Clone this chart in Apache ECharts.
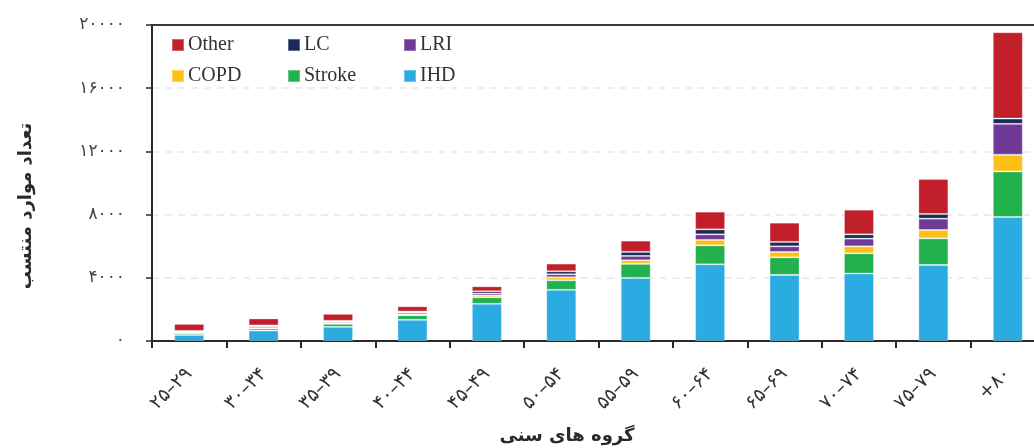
<!DOCTYPE html>
<html>
<head>
<meta charset="utf-8">
<script src="https://cdn.jsdelivr.net/npm/echarts@6/dist/echarts.min.js"></script>
<style>html,body{margin:0;padding:0;background:#fff;overflow:hidden}#c{width:1045px;height:448px}</style>
</head>
<body>
<div id="c"></div>
<script>
const categories = ['۲۵–۲۹','۳۰–۳۴','۳۵–۳۹','۴۰–۴۴','۴۵–۴۹','۵۰–۵۴','۵۵–۵۹','۶۰–۶۴','۶۵–۶۹','۷۰–۷۴','۷۵–۷۹','+۸۰'];
const IHD    = [380, 664, 897, 1340, 2351, 3236, 3994, 4854, 4184, 4266, 4816, 7849];
const Stroke = [110, 126, 190, 290, 417, 607, 885, 1201, 1112, 1283, 1681, 2882];
const COPD   = [40, 40, 63, 63, 107, 190, 228, 341, 341, 442, 531, 1055];
const LRI    = [60, 95, 80, 105, 126, 190, 278, 354, 354, 487, 714, 1959];
const LC     = [50, 60, 45, 63, 145, 190, 253, 316, 278, 272, 297, 335];
const Other  = [440, 442, 442, 335, 316, 487, 714, 1119, 1220, 1561, 2212, 5460];
const yTickValues = [0, 4000, 8000, 12000, 16000, 20000];
const xTitle = 'گروه های سنی';
const yTitle = 'تعداد موارد منتسب';

const faDigits = '۰۱۲۳۴۵۶۷۸۹';
const toFa = v => String(v).replace(/[0-9]/g, d => faDigits[+d]);

const colors = {Other:'#C1202A', LC:'#1C2A5B', LRI:'#6F3A97', COPD:'#FDC016', Stroke:'#23B14D', IHD:'#2AABE2'};
const seriesDefs = [['IHD',IHD],['Stroke',Stroke],['COPD',COPD],['LRI',LRI],['LC',LC],['Other',Other]];

const legendPos = [
  ['Other',171,35],['LC',287,35],['LRI',403,35],
  ['COPD',171,66],['Stroke',287,66],['IHD',403,66]
];

const chart = echarts.init(document.getElementById('c'));
chart.setOption({
  animation:false,
  backgroundColor:'#fff',
  grid:{left:152, top:25, right:0, bottom:107, containLabel:false},
  legend: legendPos.map(([n,x,y]) => ({
    data:[n], left:x, top:y, itemWidth:12, itemHeight:12, icon:'rect', itemGap:0,
    padding:0,
    textStyle:{fontFamily:'Liberation Serif', fontSize:20, color:'#333', padding:[0,0,0,-1]}
  })),
  xAxis:[{
    type:'category', data:categories, position:'bottom',
    axisLine:{lineStyle:{color:'#2a2a2a', width:2}},
    axisTick:{show:true, alignWithLabel:false, length:7, lineStyle:{color:'#2a2a2a', width:2}},
    axisLabel:{rotate:45, margin:30, fontFamily:'DejaVu Sans', fontSize:19, color:'#333'}
  },{
    type:'category', data:categories, position:'top',
    axisLine:{show:true, lineStyle:{color:'#3a3a3a', width:2}},
    axisTick:{show:false}, axisLabel:{show:false}
  }],
  yAxis:{
    type:'value', min:0, max:20000, interval:4000,
    axisLine:{show:true, lineStyle:{color:'#2a2a2a', width:2}},
    axisTick:{show:true, length:6, lineStyle:{color:'#2a2a2a', width:1.5}},
    axisLabel:{margin:27, fontFamily:'DejaVu Sans', fontSize:17, color:'#444', padding:[0,0,16,0],
      formatter: v => yTickValues.includes(v) ? toFa(v) : ''},
    splitLine:{show:true, lineStyle:{color:'#e8e8e8', type:[7,6], width:1.5}}
  },
  series: seriesDefs.map(([n,d]) => ({
    name:n, type:'bar', stack:'total', data:d, barWidth:30, xAxisIndex:0,
    itemStyle:{color:colors[n], borderColor:'rgba(255,255,255,0.3)', borderWidth:1}
  })),
  graphic:[
    {type:'text', x:567, y:436, style:{text:xTitle, font:'bold 18px "DejaVu Sans"', fill:'#2a2a2a', textAlign:'center', textVerticalAlign:'middle'}},
    {type:'text', x:26, y:206, rotation:Math.PI/2, style:{text:yTitle, font:'bold 18px "DejaVu Sans"', fill:'#2a2a2a', textAlign:'center', textVerticalAlign:'middle'}}
  ]
});
</script>
</body>
</html>
